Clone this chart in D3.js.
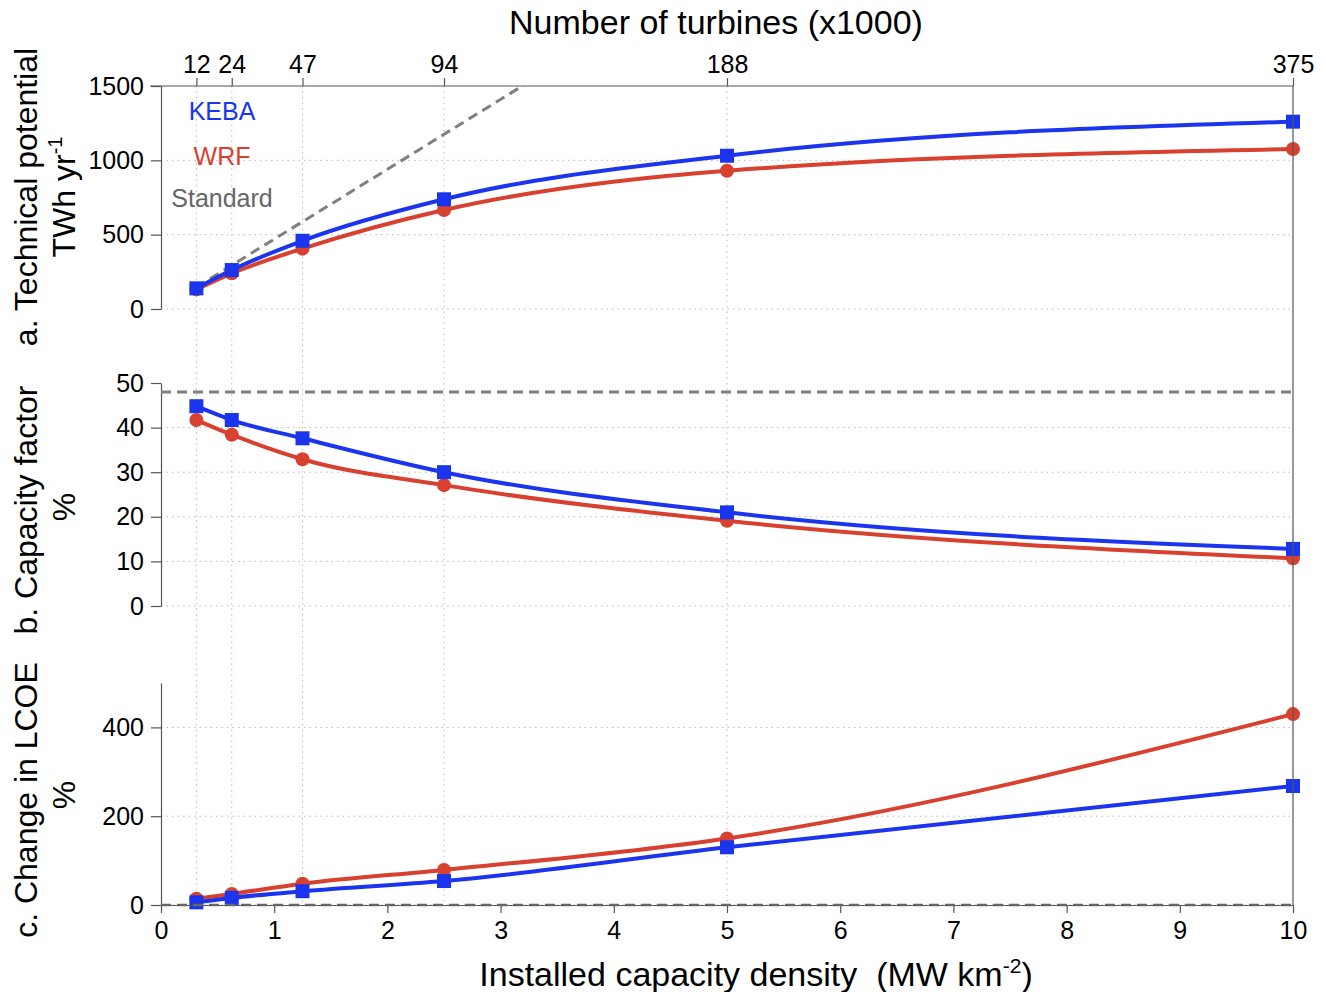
<!DOCTYPE html>
<html>
<head>
<meta charset="utf-8">
<script src="https://cdn.jsdelivr.net/npm/d3@7"></script>
<style>
  html, body { margin: 0; padding: 0; background: #fff; }
  svg { display: block; font-family: "Liberation Sans", Arial, Helvetica, sans-serif; }
  text { white-space: pre; }
</style>
</head>
<body>
<svg id="chart" width="1326" height="992"></svg>
<script>
// Installed capacity density (MW km-2) and matching turbine counts (x1000)
const densities = [0.3125, 0.625, 1.25, 2.5, 5, 10];
const turbineLabels = ["12", "24", "47", "94", "188", "375"];
const xTicks = [0, 1, 2, 3, 4, 5, 6, 7, 8, 9, 10];

// a. Technical potential (TWh yr-1)
const potentialKEBA = [139, 262, 459, 738, 1031, 1260];
const potentialWRF = [132, 240, 406, 666, 930, 1076];
const potentialStandard = [147, 294, 587, 1175, 2350, 4700];
const potentialTicks = [0, 500, 1000, 1500];

// b. Capacity factor (%)
const cfKEBA = [44.8, 41.7, 37.6, 30.0, 21.0, 12.8];
const cfWRF = [41.7, 38.4, 32.9, 27.1, 19.1, 10.7];
const cfStandard = 48;
const cfTicks = [0, 10, 20, 30, 40, 50];

// c. Change in LCOE (%)
const lcoeKEBA = [6, 16, 31, 54, 130, 268];
const lcoeWRF = [14, 25, 48, 79, 150, 430];
const lcoeStandard = 0;
const lcoeTicks = [0, 200, 400];

const BLUE = "#1b34ee";
const RED = "#d8402f";
const GREY = "#7f7f7f";
const AXIS = "#555";
const GRID = "#b8b8b8";
const FONT = "\"Liberation Sans\", Arial, Helvetica, sans-serif";
const TICK_FS = 25;
const LABEL_FS = 32;
const TITLE_FS = 34;

const svg = d3.select("#chart");
const left = 161, right = 1293;
const x = d3.scaleLinear().domain([0, 10]).range([left, right]);

const panels = [
  { id: "a", top: 86, bottom: 309, domain: [0, 1500], ticks: potentialTicks,
    keba: potentialKEBA, wrf: potentialWRF, labelY: 197, unitY: 197,
    label: ["a. Technical potential", "TWh yr", "-1"] },
  { id: "b", top: 383, bottom: 606, domain: [0, 50], ticks: cfTicks,
    keba: cfKEBA, wrf: cfWRF, labelY: 510, unitY: 507,
    label: ["b. Capacity factor", "%"] },
  { id: "c", top: 683, bottom: 905, domain: [0, 500], ticks: lcoeTicks,
    keba: lcoeKEBA, wrf: lcoeWRF, labelY: 800, unitY: 795,
    label: ["c. Change in LCOE", "%"] }
];
panels.forEach(p => { p.y = d3.scaleLinear().domain(p.domain).range([p.bottom, p.top]); });

// Vertical dotted grid at the simulated densities, running through all panels
svg.append("g").selectAll("line")
  .data(densities.slice(0, -1))
  .join("line")
  .attr("x1", d => x(d)).attr("x2", d => x(d))
  .attr("y1", panels[0].top).attr("y2", panels[2].bottom)
  .attr("stroke", GRID).attr("stroke-width", 1).attr("stroke-dasharray", "1.5,4");

panels.forEach(p => {
  const g = svg.append("g");
  // horizontal dotted grid
  g.append("g").selectAll("line")
    .data(p.ticks.filter(t => t !== p.domain[1]))
    .join("line")
    .attr("x1", left).attr("x2", right)
    .attr("y1", d => p.y(d)).attr("y2", d => p.y(d))
    .attr("stroke", GRID).attr("stroke-width", 1).attr("stroke-dasharray", "1.5,4");

  // left axis
  const ax = g.append("g").attr("transform", `translate(${left},0)`)
    .call(d3.axisLeft(p.y).tickValues(p.ticks).tickFormat(d3.format("d"))
      .tickSize(10).tickPadding(7).tickSizeOuter(0));
  ax.select(".domain").attr("stroke", AXIS).attr("stroke-width", 1.2);
  ax.selectAll(".tick line").attr("stroke", AXIS).attr("stroke-width", 1.2);
  ax.selectAll(".tick text").attr("font-size", TICK_FS).attr("font-family", FONT).attr("fill", "#000");

  // y label, two rotated lines
  g.append("text")
    .attr("transform", `translate(37,${p.labelY}) rotate(-90)`)
    .attr("text-anchor", "middle").attr("font-size", LABEL_FS).attr("font-family", FONT).attr("fill", "#000")
    .text(p.label[0]);
  const t2 = g.append("text")
    .attr("transform", `translate(75,${p.unitY}) rotate(-90)`)
    .attr("text-anchor", "middle").attr("font-size", LABEL_FS).attr("font-family", FONT).attr("fill", "#000");
  t2.append("tspan").text(p.label[1]);
  if (p.label[2]) t2.append("tspan").attr("dy", -13).attr("font-size", 20).text(p.label[2]);

  p.g = g;
});

// clip region for panel a (reference line leaves the frame)
svg.append("defs").append("clipPath").attr("id", "clipA")
  .append("rect").attr("x", left).attr("y", panels[0].top)
  .attr("width", right - left).attr("height", panels[0].bottom - panels[0].top);

// Reference (standard) lines
{
  const p = panels[0];
  const line = d3.line().x((d, i) => x(densities[i])).y(d => p.y(d));
  p.g.append("path").datum(potentialStandard)
    .attr("d", line).attr("clip-path", "url(#clipA)")
    .attr("fill", "none").attr("stroke", GREY).attr("stroke-width", 3).attr("stroke-dasharray", "10,6");
}
{
  const p = panels[1];
  p.g.append("line").attr("x1", left).attr("x2", right)
    .attr("y1", p.y(cfStandard)).attr("y2", p.y(cfStandard))
    .attr("stroke", GREY).attr("stroke-width", 3).attr("stroke-dasharray", "10,6");
}

// Bottom x axis
{
  const p = panels[2];
  const ax = svg.append("g").attr("transform", `translate(0,${p.bottom})`)
    .call(d3.axisBottom(x).tickValues(xTicks).tickSize(8).tickPadding(8).tickSizeOuter(0));
  ax.select(".domain").attr("stroke", AXIS).attr("stroke-width", 1.2);
  ax.selectAll(".tick line").attr("stroke", AXIS).attr("stroke-width", 1.2);
  ax.selectAll(".tick text").attr("font-size", TICK_FS).attr("font-family", FONT).attr("fill", "#000");
  svg.append("line").attr("x1", left).attr("x2", right)
    .attr("y1", p.y(lcoeStandard)).attr("y2", p.y(lcoeStandard))
    .attr("stroke", "#666").attr("stroke-width", 2.5).attr("stroke-dasharray", "10,6");

  const lab = svg.append("text").attr("x", 756).attr("y", 986)
    .attr("text-anchor", "middle").attr("font-size", TITLE_FS).attr("font-family", FONT).attr("fill", "#000");
  lab.append("tspan").text("Installed capacity density  (MW km");
  lab.append("tspan").attr("dy", -13).attr("font-size", 21).text("-2");
  lab.append("tspan").attr("dy", 13).text(")");
}

// Top axis: turbine counts
{
  const top = panels[0].top;
  svg.append("line").attr("x1", 150).attr("x2", right).attr("y1", top).attr("y2", top)
    .attr("stroke", AXIS).attr("stroke-width", 1.2);
  const ax = svg.append("g").attr("transform", `translate(0,${top})`)
    .call(d3.axisTop(x).tickValues(densities).tickFormat((d, i) => turbineLabels[i])
      .tickSize(8).tickPadding(5).tickSizeOuter(0));
  ax.select(".domain").remove();
  ax.selectAll(".tick line").attr("stroke", AXIS).attr("stroke-width", 1.2);
  ax.selectAll(".tick text").attr("font-size", TICK_FS).attr("font-family", FONT).attr("fill", "#000");
  svg.append("text").attr("x", 716).attr("y", 34)
    .attr("text-anchor", "middle").attr("font-size", TITLE_FS).attr("font-family", FONT).attr("fill", "#000")
    .text("Number of turbines (x1000)");
}

// Right frame line
svg.append("line").attr("x1", right).attr("x2", right)
  .attr("y1", panels[0].top).attr("y2", panels[2].bottom)
  .attr("stroke", AXIS).attr("stroke-width", 1.2);

// Model series
panels.forEach(p => {
  const line = d3.line().x((d, i) => x(densities[i])).y(d => p.y(d)).curve(d3.curveMonotoneX);
  const series = [
    { vals: p.wrf, color: RED, shape: "circle" },
    { vals: p.keba, color: BLUE, shape: "square" }
  ];
  series.forEach(s => {
    p.g.append("path").datum(s.vals).attr("d", line)
      .attr("fill", "none").attr("stroke", s.color).attr("stroke-width", 4);
  });
  series.forEach(s => {
    if (s.shape === "circle") {
      p.g.append("g").selectAll("circle").data(s.vals).join("circle")
        .attr("cx", (d, i) => x(densities[i])).attr("cy", d => p.y(d))
        .attr("r", 7).attr("fill", s.color);
    } else {
      p.g.append("g").selectAll("rect").data(s.vals).join("rect")
        .attr("x", (d, i) => x(densities[i]) - 7).attr("y", d => p.y(d) - 7)
        .attr("width", 14).attr("height", 14).attr("fill", s.color);
    }
  });
});

// Legend
const legend = [
  { text: "KEBA", color: BLUE, y: 120 },
  { text: "WRF", color: RED, y: 165 },
  { text: "Standard", color: "#666", y: 207 }
];
svg.append("g").selectAll("text").data(legend).join("text")
  .attr("x", 222).attr("y", d => d.y).attr("text-anchor", "middle")
  .attr("font-size", 25).attr("font-family", FONT).attr("fill", d => d.color)
  .text(d => d.text);
</script>
</body>
</html>
